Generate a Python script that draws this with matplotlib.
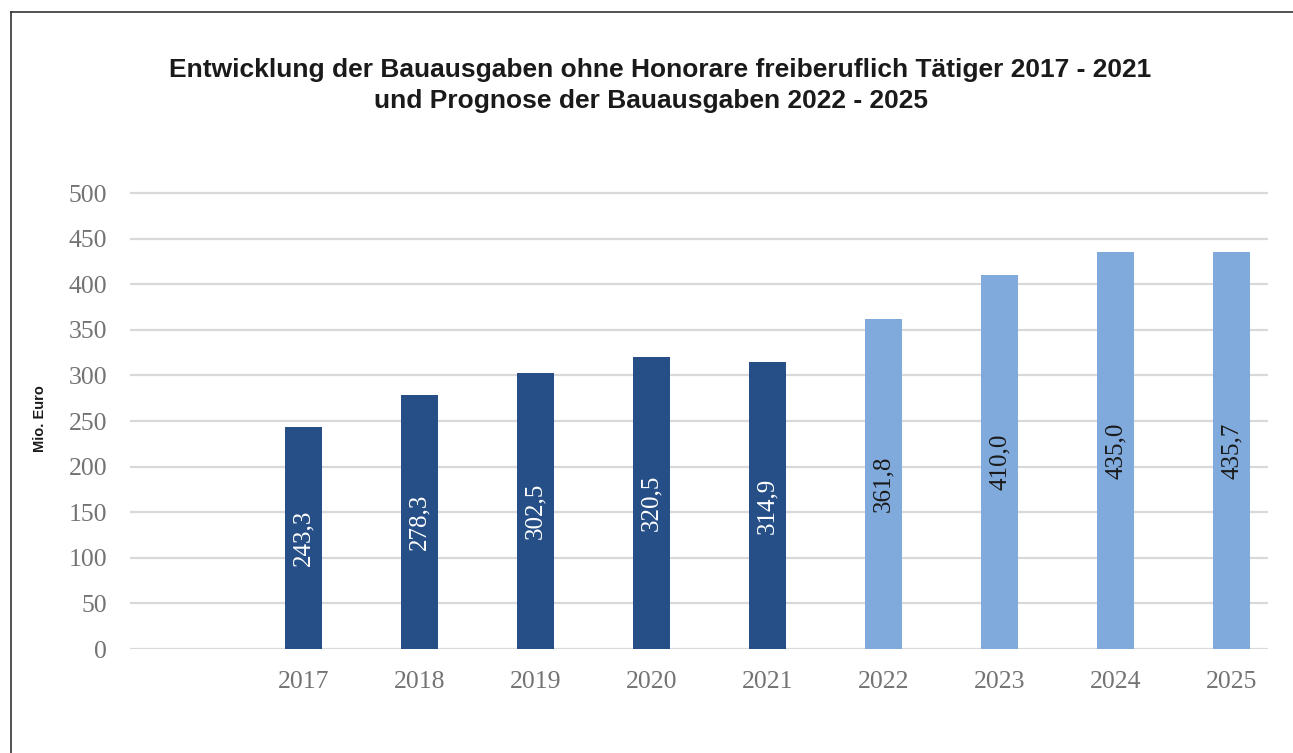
import matplotlib
matplotlib.use("Agg")
import matplotlib.pyplot as plt
from matplotlib.lines import Line2D

years = ["2017", "2018", "2019", "2020", "2021", "2022", "2023", "2024", "2025"]
values = [243.3, 278.3, 302.5, 320.5, 314.9, 361.8, 410.0, 435.0, 435.7]
is_forecast = [False, False, False, False, False, True, True, True, True]
value_labels = ["243,3", "278,3", "302,5", "320,5", "314,9", "361,8", "410,0", "435,0", "435,7"]
y_ticks = [0, 50, 100, 150, 200, 250, 300, 350, 400, 450, 500]

title_line1 = "Entwicklung der Bauausgaben ohne Honorare freiberuflich Tätiger 2017 - 2021"
title_line2 = "und Prognose der Bauausgaben 2022 - 2025"
y_label = "Mio. Euro"

dark_blue = "#264F87"
light_blue = "#7FAADB"
grid_grey = "#D9D9D9"
tick_grey = "#737373"

W, H = 1293, 753
fig = plt.figure(figsize=(W / 100, H / 100), dpi=100)
fig.patch.set_facecolor("white")

# plot area in pixel terms
left_px, right_px = 130, 1268
base_px = 649
px_per_unit = 456 / 500
ymax = 510
top_px = base_px - ymax * px_per_unit
ax = fig.add_axes([left_px / W, (H - base_px) / H,
                   (right_px - left_px) / W, (base_px - top_px) / H])

x = list(range(len(years)))
colors = [light_blue if f else dark_blue for f in is_forecast]
bars = ax.bar(x, values, width=0.32, color=colors, zorder=3)

step = 116
first_center = 303.5
ax.set_xlim((left_px - first_center) / step, (right_px - first_center) / step)
ax.set_ylim(0, ymax)

ax.set_yticks(y_ticks)
ax.set_yticklabels([str(t) for t in y_ticks])
ax.set_xticks(x)
ax.set_xticklabels(years)
ax.tick_params(axis="both", length=0, labelcolor=tick_grey, labelsize=18.5)
ax.tick_params(axis="y", pad=16.5)
ax.tick_params(axis="x", pad=16)
for lbl in ax.get_xticklabels() + ax.get_yticklabels():
    lbl.set_fontfamily("Liberation Serif")

for s in ax.spines.values():
    s.set_visible(False)
for t in y_ticks:
    ax.axhline(t, color=grid_grey, lw=1.6, zorder=1)

for xi, v, lab, f in zip(x, values, value_labels, is_forecast):
    ax.text(xi, v / 2, lab, rotation=90, ha="center", va="center",
            fontsize=18, family="Liberation Serif",
            color="#1A1A1A" if f else "white", zorder=4)

fig.text(40 / W, 1 - 419 / H, y_label, rotation=90, ha="center", va="center",
         fontsize=10.5, fontweight="bold", family="Liberation Sans", color="#1A1A1A")

title_kw = dict(ha="center", va="center", fontsize=19, fontweight="bold",
                family="Liberation Sans", color="#1A1A1A")
fig.text(660 / W, 1 - 70 / H, title_line1, **title_kw)
fig.text(651 / W, 1 - 101 / H, title_line2, **title_kw)

# chart frame (top and left edges)
fig.add_artist(Line2D([10.5 / W, 10.5 / W], [0, 1 - 11.5 / H],
                      transform=fig.transFigure, color="#333333", lw=1.2))
fig.add_artist(Line2D([10.5 / W, 1], [1 - 11.5 / H, 1 - 11.5 / H],
                      transform=fig.transFigure, color="#333333", lw=1.2))

fig.savefig("out.png", dpi=100, facecolor="white")
